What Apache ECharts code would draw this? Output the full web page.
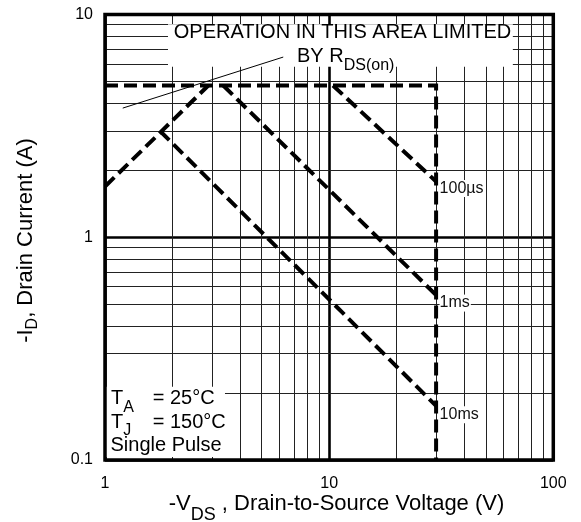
<!DOCTYPE html>
<html><head><meta charset="utf-8">
<script src="https://cdn.jsdelivr.net/npm/echarts@6/dist/echarts.min.js"></script>
<style>html,body{margin:0;padding:0;background:#fff}#c{width:581px;height:522px}</style>
</head><body><div id="c"></div>
<script>
// ---- axis ticks ----
const xTickLabels = [1, 10, 100];
const yTickLabels = [0.1, 1, 10];
const xMinorGrid = [2,3,4,5,6,7,8,9,20,30,40,50,60,70,80,90];
const yMinorGrid = [0.2,0.3,0.4,0.5,0.6,0.7,0.8,0.9,2,3,4,5,6,7,8,9];

// ---- SOA boundary curves (V, A) ----
const limitV = [1, 30, 30];
const limitI = [4.8, 4.8, 0.1];
const rdsV = [1, 2.89];
const rdsI = [1.69, 4.8];
const us100V = [10.4, 30];
const us100I = [4.8, 1.78];
const ms1V = [3.37, 30];
const ms1I = [4.8, 0.55];
const ms10V = [1.76, 30];
const ms10I = [3.0, 0.175];
const pointerV = [1.2, 6.24];
const pointerI = [3.8, 6.44];

const FONT = '"Liberation Sans", Arial, Helvetica, sans-serif';
const chart = echarts.init(document.getElementById('c'));
const xMin = xTickLabels[0], xMax = xTickLabels[xTickLabels.length-1];
const yMin = yTickLabels[0], yMax = yTickLabels[yTickLabels.length-1];

function pairs(xs, ys){ return xs.map((x,i)=>[x, ys[i]]); }
function dashed(xs, ys, labelText, dy){
  const d = pairs(xs, ys);
  if (labelText) {
    const last = d.length-1;
    d[last] = {value: d[last], label: {show: true, position: 'right', distance: 3, offset: [0, dy],
      formatter: labelText, fontSize: 16, fontFamily: FONT, color: '#111',
      backgroundColor: '#fff', padding: [1, 1, 0, 0]}};
  }
  return {type: 'line', data: d, symbol: 'circle', symbolSize: 1, showSymbol: true,
    itemStyle: {color: 'rgba(0,0,0,0)'}, z: 5, silent: true,
    lineStyle: {color: '#000', width: 4, type: [13, 6], cap: 'butt', join: 'miter'}};
}

const gridLines = [];
xMinorGrid.forEach(v => gridLines.push({coords: [[v, yMin], [v, yMax]]}));
yMinorGrid.forEach(v => gridLines.push({coords: [[xMin, v], [xMax, v]]}));

const option = {
  animation: false,
  backgroundColor: '#fff',
  grid: {left: 105, right: 27.7, top: 14.5, bottom: 62, show: false},
  xAxis: {type: 'log', logBase: 10, min: xMin, max: xMax,
    axisLine: {show: false}, axisTick: {show: false},
    axisLabel: {fontSize: 16, fontFamily: FONT, color: '#000', margin: 16},
    splitLine: {show: true, lineStyle: {color: '#000', width: 2.6}}},
  yAxis: {type: 'log', logBase: 10, min: yMin, max: yMax,
    axisLine: {show: false}, axisTick: {show: false},
    axisLabel: {fontSize: 16, fontFamily: FONT, color: '#000', margin: 12},
    splitLine: {show: true, lineStyle: {color: '#000', width: 2.6}}},
  series: [
    {type: 'lines', coordinateSystem: 'cartesian2d', data: gridLines, silent: true, z: 1,
      lineStyle: {color: '#222', width: 1, opacity: 1}},
    dashed(limitV, limitI),
    dashed(rdsV, rdsI),
    dashed(us100V, us100I, '100µs', 7),
    dashed(ms1V, ms1I, '1ms', 8),
    dashed(ms10V, ms10I, '10ms', 9),
    {type: 'line', data: pairs(pointerV, pointerI), symbol: 'none', z: 5, silent: true,
      lineStyle: {color: '#000', width: 1}}
  ]
};
chart.setOption(option);

const px = (v, i) => chart.convertToPixel({xAxisIndex: 0, yAxisIndex: 0}, [v, i]);
function rectFrom(a, b){
  const p = px(a[0], a[1]), q = px(b[0], b[1]);
  return {x: Math.min(p[0], q[0]), y: Math.min(p[1], q[1]),
          width: Math.abs(q[0]-p[0]), height: Math.abs(q[1]-p[1])};
}
const sub = (fs, pad) => ({fontSize: fs, lineHeight: fs, padding: [pad, 0, 0, 0], fontFamily: FONT, fill: '#000', verticalAlign: 'top'});
const main = fs => ({fontSize: fs, lineHeight: fs, fontFamily: FONT, fill: '#000', verticalAlign: 'top'});

chart.setOption({graphic: [
  {type: 'rect', z: 3, silent: true, shape: rectFrom([1.91, 9.05], [66, 5.83]), style: {fill: '#fff'}},
  {type: 'rect', z: 3, silent: true, shape: rectFrom([1.0, 0.213], [3.43, 0.1031]), style: {fill: '#fff'}},
  {type: 'rect', z: 15, silent: true, shape: rectFrom([xMin, yMax], [xMax, yMin]), style: {fill: 'none', stroke: '#000', lineWidth: 3.5}},
  {type: 'text', z: 20, x: 342.5, y: 32.5, style: {text: 'OPERATION IN THIS AREA LIMITED', fontSize: 20, fontFamily: FONT, fill: '#000', align: 'center', verticalAlign: 'middle'}},
  {type: 'text', z: 20, x: 297, y: 46.2, style: {text: '{a|BY R}{s|DS(on)}', align: 'left', verticalAlign: 'top', rich: {a: main(20), s: sub(16, 11)}}},
  {type: 'text', z: 20, x: 111, y: 388.9, style: {text: '{a|T}{s|A}', align: 'left', verticalAlign: 'top', rich: {a: main(20), s: sub(16, 10.6)}}},
  {type: 'text', z: 20, x: 152.7, y: 388.9, style: {text: '{a|= 25°C}', align: 'left', verticalAlign: 'top', rich: {a: main(20)}}},
  {type: 'text', z: 20, x: 111, y: 412.2, style: {text: '{a|T}{s|J}', align: 'left', verticalAlign: 'top', rich: {a: main(20), s: sub(16, 10.6)}}},
  {type: 'text', z: 20, x: 152.7, y: 412.2, style: {text: '{a|= 150°C}', align: 'left', verticalAlign: 'top', rich: {a: main(20)}}},
  {type: 'text', z: 20, x: 110.5, y: 435.2, style: {text: '{a|Single Pulse}', align: 'left', verticalAlign: 'top', rich: {a: main(20)}}},
  {type: 'text', z: 20, x: 336.5, y: 493, style: {text: '{a|-V}{s|DS}{a| , Drain-to-Source Voltage (V)}', align: 'center', verticalAlign: 'top', rich: {a: main(22), s: sub(18, 12.7)}}},
  {type: 'text', z: 20, x: 26.2, y: 240.5, rotation: Math.PI/2, style: {text: '{a|-I}{s|D}{a|, Drain Current (A)}', align: 'center', verticalAlign: 'middle', rich: {a: main(22), s: sub(16, 9.4)}}}
]});
</script></body></html>
